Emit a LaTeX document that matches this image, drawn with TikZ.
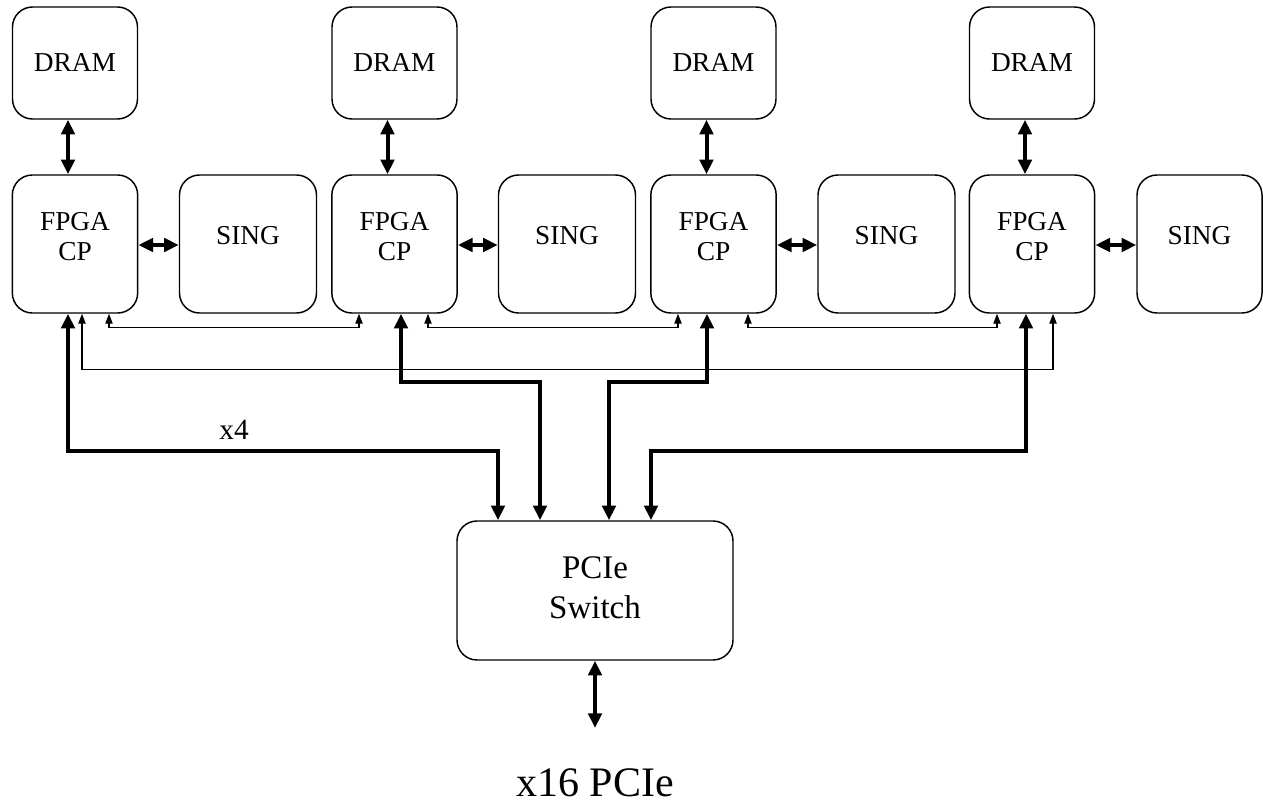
\documentclass[tikz,border=0pt]{standalone}
\usepackage{fontspec}
\setmainfont{Liberation Serif}
\usetikzlibrary{arrows.meta,calc}
\newcommand{\twolines}[3]{\raisebox{#3}[\height][\depth]{\begin{tabular}{@{}c@{}}#1\\#2\end{tabular}}}
\begin{document}
\begin{tikzpicture}[x=0.75pt,y=-0.75pt,
  box/.style={draw,line width=1.1pt,rounded corners=15pt,inner sep=0pt,
    font=\fontsize{20.5}{23}\selectfont},
  drambox/.style={box,minimum width=93.75pt,minimum height=84pt},
  fpgabox/.style={box,minimum width=94pt,minimum height=103.5pt},
  singbox/.style={box,minimum width=102.75pt,minimum height=103.5pt},
  switchbox/.style={box,minimum width=207pt,minimum height=104.25pt,
    font=\fontsize{24.75}{30}\selectfont},
  thk/.style={line width=3pt,
    {Triangle[length=11pt,width=10pt]}-{Triangle[length=11pt,width=10pt]}},
  thn/.style={line width=0.9pt,
    {Triangle[length=7.5pt,width=5.5pt]}-{Triangle[length=7.5pt,width=5.5pt]}},
]
\useasboundingbox (0,0) rectangle (1263,803);

% DRAM
\node[drambox] (d1) at (75,63) {DRAM};
\node[drambox] (d2) at (394.5,63) {DRAM};
\node[drambox] (d3) at (713.5,63) {DRAM};
\node[drambox] (d4) at (1032,63) {DRAM};

% FPGA
\node[fpgabox] (f1) at (75,244) {\twolines{FPGA}{CP}{3.5pt}};
\node[fpgabox] (f2) at (394.5,244) {\twolines{FPGA}{CP}{3.5pt}};
\node[fpgabox] (f3) at (713.5,244) {\twolines{FPGA}{CP}{3.5pt}};
\node[fpgabox] (f4) at (1032,244) {\twolines{FPGA}{CP}{3.5pt}};

% SING
\node[singbox] (s1) at (248,244) {\raisebox{6pt}[\height][\depth]{SING}};
\node[singbox] (s2) at (567,244) {\raisebox{6pt}[\height][\depth]{SING}};
\node[singbox] (s3) at (886.5,244) {\raisebox{6pt}[\height][\depth]{SING}};
\node[singbox,minimum width=93.75pt] (s4) at (1199.5,244) {\raisebox{6pt}[\height][\depth]{SING}};

% Switch
\node[switchbox] (sw) at (595,590.5) {\twolines{PCIe}{Switch}{0pt}};

% labels
\node[font=\fontsize{22}{26}\selectfont,anchor=base,inner sep=0pt] (x4) at (234,439) {x4};
\node[font=\fontsize{31.5}{36}\selectfont,anchor=base,inner sep=0pt] (pcie) at (595,796) {x16 PCIe};
\coordinate (pend) at (595,728);

% DRAM <-> FPGA, FPGA <-> SING
\foreach \i in {1,2,3,4}{
  \draw[thk] ($(d\i.south)+(-7,0)$) -- ($(f\i.north)+(-7,0)$);
  \draw[thk] ($(f\i.east)+(0,1)$) -- ($(s\i.west)+(0,1)$);
}

% FPGA <-> switch
\draw[thk] ($(f1.south)+(-7,0)$) |- ($(sw.north)+(-97,-69)$) -- ($(sw.north)+(-97,0)$);
\draw[thk] ($(f2.south)+(6.5,0)$) |- ($(sw.north)+(-55,-138)$) -- ($(sw.north)+(-55,0)$);
\draw[thk] ($(f3.south)+(-6.5,0)$) |- ($(sw.north)+(14,-138)$) -- ($(sw.north)+(14,0)$);
\draw[thk] ($(f4.south)+(-6,0)$) |- ($(sw.north)+(56,-69)$) -- ($(sw.north)+(56,0)$);
\draw[thk] (sw.south) -- (pend);

% FPGA <-> FPGA thin links
\draw[thn] ($(f1.south)+(34,0)$) -- ++(0,14) -| ($(f2.south)+(-35.5,0)$);
\draw[thn] ($(f2.south)+(33.5,0)$) -- ++(0,14) -| ($(f3.south)+(-35.5,0)$);
\draw[thn] ($(f3.south)+(34.5,0)$) -- ++(0,14) -| ($(f4.south)+(-35,0)$);
\draw[thn] ($(f1.south)+(7,0)$) -- ++(0,56) -| ($(f4.south)+(21,0)$);
\end{tikzpicture}
\end{document}
